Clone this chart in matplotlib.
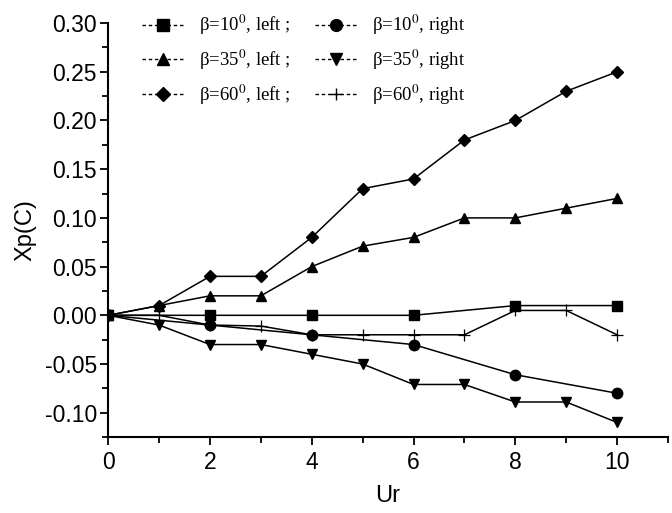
import matplotlib.pyplot as plt
from matplotlib.lines import Line2D
from matplotlib.ticker import MultipleLocator

plt.rcParams['font.family'] = ['Liberation Sans', 'DejaVu Sans']
plt.rcParams['mathtext.fontset'] = 'stix'

# data
ur_even = [0, 2, 4, 6, 8, 10]
ur_all = [0, 1, 2, 3, 4, 5, 6, 7, 8, 9, 10]

b10_left = [0.0, 0.0, 0.0, 0.0, 0.01, 0.01]
b10_right = [0.0, -0.01, -0.02, -0.03, -0.061, -0.08]
b35_left = [0.0, 0.01, 0.02, 0.02, 0.05, 0.071, 0.08, 0.10, 0.10, 0.11, 0.12]
b35_right = [0.0, -0.01, -0.03, -0.03, -0.04, -0.05, -0.071, -0.071, -0.089, -0.089, -0.11]
b60_left = [0.0, 0.01, 0.04, 0.04, 0.08, 0.13, 0.14, 0.18, 0.20, 0.23, 0.25]
b60_right = [0.0, 0.0, -0.01, -0.011, -0.02, -0.02, -0.02, -0.02, 0.005, 0.005, -0.02]

labels = ['β=10$^0$, left ;', 'β=10$^0$, right',
          'β=35$^0$, left ;', 'β=35$^0$, right',
          'β=60$^0$, left ;', 'β=60$^0$, right']

fig = plt.figure(figsize=(6.72, 5.13), dpi=100)
ax = fig.add_axes([0.161, 0.148, 0.833, 0.807])

kw = dict(color='black', lw=1.1, markersize=7.5)
ax.plot(ur_even, b10_left, marker='s', **kw)
ax.plot(ur_even, b10_right, marker='o', **kw)
ax.plot(ur_all, b35_left, marker='^', **kw)
ax.plot(ur_all, b35_right, marker='v', **kw)
ax.plot(ur_all, b60_left, marker='D', markersize=6.5, color='black', lw=1.1)
ax.plot(ur_all, b60_right, marker='+', color='black', lw=1.1, markersize=9, markeredgewidth=0.9)

ax.set_xlim(0, 11)
ax.set_ylim(-0.125, 0.30)
ax.xaxis.set_major_locator(MultipleLocator(2))
ax.xaxis.set_minor_locator(MultipleLocator(1))
ax.yaxis.set_major_locator(MultipleLocator(0.05))
ax.yaxis.set_minor_locator(MultipleLocator(0.025))
ax.yaxis.set_major_formatter(plt.FormatStrFormatter('%.2f'))
ax.spines['top'].set_visible(False)
ax.spines['right'].set_visible(False)
ax.spines['left'].set_linewidth(1.5)
ax.spines['bottom'].set_linewidth(1.5)
ax.tick_params(which='major', direction='out', length=6, width=1.3, labelsize=16.5, pad=2)
ax.tick_params(axis='x', which='major', pad=4)
ax.tick_params(which='minor', direction='out', length=4, width=1.3)
ax.set_xlabel('Ur', fontsize=17, labelpad=8)
ax.set_ylabel('Xp(C)', fontsize=17, labelpad=6)

# legend handles: marker with short dashes each side
dash = (0, (2.5, 2.0))
handles = [
    Line2D([], [], color='black', lw=1, linestyle=dash, marker='s', markersize=8.5),
    Line2D([], [], color='black', lw=1, linestyle=dash, marker='o', markersize=8.5),
    Line2D([], [], color='black', lw=1, linestyle=dash, marker='^', markersize=8.5),
    Line2D([], [], color='black', lw=1, linestyle=dash, marker='v', markersize=8.5),
    Line2D([], [], color='black', lw=1, linestyle=dash, marker='D', markersize=7.5),
    Line2D([], [], color='black', lw=1, linestyle=dash, marker='+', markersize=9),
]
order = [0, 2, 4, 1, 3, 5]
ax.legend([handles[i] for i in order], [labels[i] for i in order], ncol=2,
          loc='upper left', bbox_to_anchor=(0.03, 1.065), frameon=False,
          prop={'family': 'Liberation Serif', 'size': 13.5},
          handlelength=2.3, handletextpad=0.75, columnspacing=1.3,
          labelspacing=0.55)

plt.savefig('out.png', dpi=100)
